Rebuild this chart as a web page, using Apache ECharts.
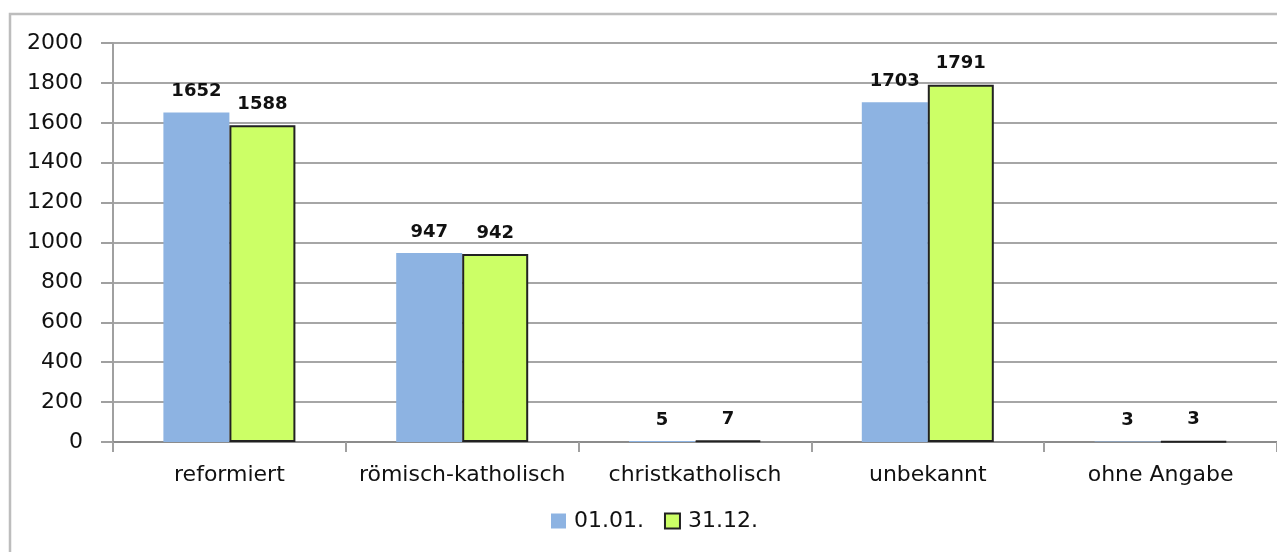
<!DOCTYPE html>
<html><head><meta charset="utf-8">
<script src="https://cdn.jsdelivr.net/npm/echarts@6/dist/echarts.min.js"></script>
<style>html,body{margin:0;padding:0;background:#fff}#c{width:1277px;height:552px}</style>
</head><body><div id="c"></div>
<script>
var categories = ['reformiert', 'römisch-katholisch', 'christkatholisch', 'unbekannt', 'ohne Angabe'];
var seriesNames = ['01.01.', '31.12.'];
var valuesStart = [1652, 947, 5, 1703, 3];
var valuesEnd = [1588, 942, 7, 1791, 3];
var yTicks = { min: 0, max: 2000, interval: 200 };

var FONT = 'DejaVu Sans';
var chart = echarts.init(document.getElementById('c'), null, { renderer: 'canvas' });
chart.setOption({
  animation: false,
  backgroundColor: '#fff',
  textStyle: { fontFamily: FONT },
  graphic: [{
    type: 'rect', z: -10,
    shape: { x: 10, y: 14, width: 1400, height: 700 },
    style: { fill: 'none', stroke: '#bdbdbd', lineWidth: 2.5 }
  }],
  grid: { left: 113, right: -1, top: 43, bottom: 110, containLabel: false },
  legend: {
    data: seriesNames, left: 546, top: 505, itemWidth: 15, itemHeight: 15, itemGap: 20,
    icon: 'rect',
    textStyle: { fontFamily: FONT, fontSize: 22, color: '#111', padding: [0, 0, 0, 3] }
  },
  xAxis: {
    type: 'category', data: categories,
    axisLine: { lineStyle: { color: '#8c8c8c', width: 2 } },
    axisTick: { show: true, length: 10, lineStyle: { color: '#a0a0a0', width: 2 } },
    axisLabel: { fontFamily: FONT, fontSize: 22, color: '#111', margin: 22, interval: 0 }
  },
  yAxis: {
    type: 'value', min: yTicks.min, max: yTicks.max, interval: yTicks.interval,
    axisLine: { show: true, lineStyle: { color: '#a0a0a0', width: 2 } },
    axisTick: { show: true, length: 12, lineStyle: { color: '#a0a0a0', width: 2 } },
    axisLabel: { fontFamily: FONT, fontSize: 22, color: '#111', margin: 30,
      formatter: function (v) { return String(v); } },
    splitLine: { lineStyle: { color: '#a6a6a6', width: 2 } }
  },
  series: [
    {
      name: seriesNames[0], type: 'bar', data: valuesStart, barWidth: 66, barGap: '0%',
      itemStyle: { color: '#8db3e2' },
      label: { show: true, position: 'top', distance: 12, fontFamily: FONT, fontWeight: 'bold', fontSize: 18, color: '#111' }
    },
    {
      name: seriesNames[1], type: 'bar', data: valuesEnd, barWidth: 66,
      itemStyle: { color: '#ccff66', borderColor: '#222', borderWidth: 2 },
      label: { show: true, position: 'top', distance: 12, fontFamily: FONT, fontWeight: 'bold', fontSize: 18, color: '#111' }
    }
  ]
});
</script></body></html>
